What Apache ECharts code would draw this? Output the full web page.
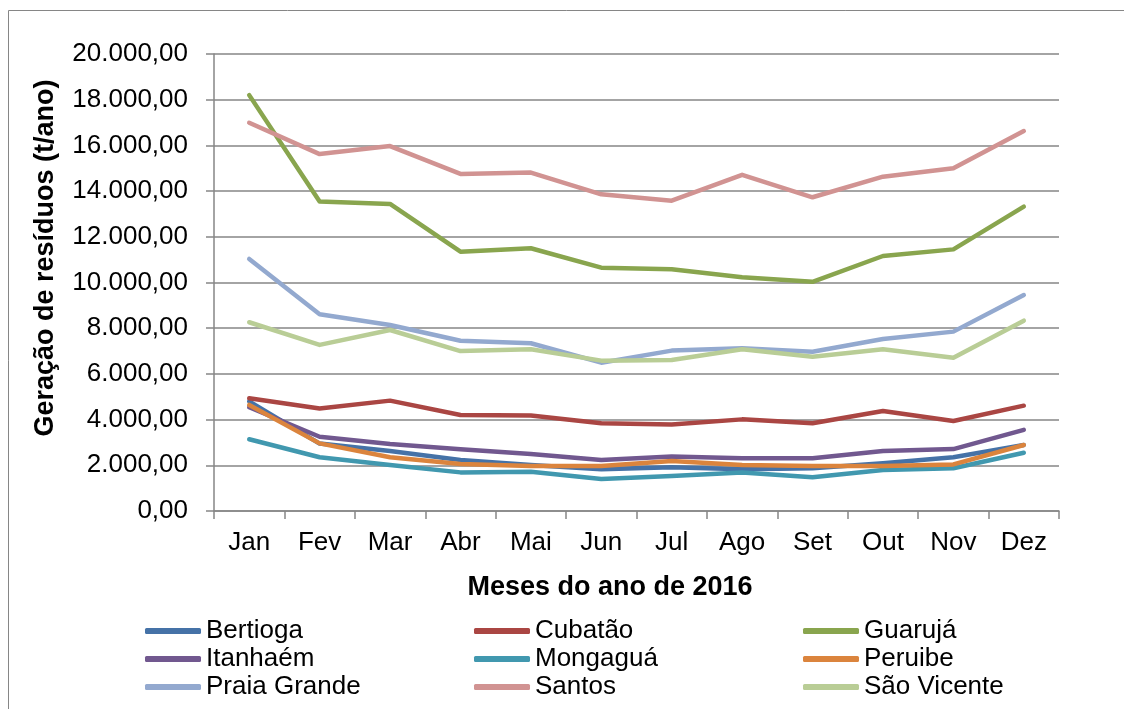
<!DOCTYPE html>
<html>
<head>
<meta charset="utf-8">
<script src="https://cdn.jsdelivr.net/npm/echarts@6/dist/echarts.min.js"></script>
<style>
  html, body { margin: 0; padding: 0; background: #ffffff; }
  #chart { width: 1124px; height: 709px; }
</style>
</head>
<body>
<div id="chart"></div>
<script>
// Monthly waste generation (t/ano) per municipality, 2016
const months = ['Jan', 'Fev', 'Mar', 'Abr', 'Mai', 'Jun', 'Jul', 'Ago', 'Set', 'Out', 'Nov', 'Dez'];

const bertioga    = [4800, 2950, 2630, 2230, 2010, 1830, 1910, 1830, 1870, 2090, 2350, 2890];
const cubatao     = [4930, 4490, 4830, 4200, 4180, 3840, 3790, 4010, 3840, 4380, 3940, 4610];
const guaruja     = [18200, 13540, 13440, 11350, 11500, 10650, 10580, 10230, 10030, 11160, 11450, 13320];
const itanhaem    = [4540, 3250, 2930, 2700, 2490, 2230, 2380, 2310, 2310, 2630, 2710, 3550];
const mongagua    = [3140, 2350, 2010, 1690, 1720, 1400, 1530, 1680, 1480, 1790, 1870, 2550];
const peruibe     = [4640, 2960, 2350, 2060, 1970, 1970, 2190, 2010, 1970, 1970, 2040, 2890];
const praiaGrande = [11030, 8610, 8140, 7450, 7340, 6490, 7020, 7120, 6970, 7530, 7850, 9450];
const santos      = [16990, 15620, 15970, 14750, 14810, 13860, 13580, 14710, 13730, 14630, 15000, 16630];
const saoVicente  = [8260, 7270, 7920, 7000, 7080, 6580, 6610, 7080, 6750, 7080, 6710, 8330];

const seriesDefs = [
  { name: 'Bertioga',     data: bertioga,    color: '#4572A7' },
  { name: 'Cubatão',      data: cubatao,     color: '#AA4643' },
  { name: 'Guarujá',      data: guaruja,     color: '#89A54E' },
  { name: 'Itanhaém',     data: itanhaem,    color: '#71588F' },
  { name: 'Mongaguá',     data: mongagua,    color: '#4198AF' },
  { name: 'Peruibe',      data: peruibe,     color: '#DB843D' },
  { name: 'Praia Grande', data: praiaGrande, color: '#93A9CF' },
  { name: 'Santos',       data: santos,      color: '#D19392' },
  { name: 'São Vicente',  data: saoVicente,  color: '#B9CD96' }
];

const font = 'Liberation Sans, Arial, sans-serif';
const gridColor = '#868686';

// pt-BR number style: thousands with '.', two decimals with ','
function fmt(v) {
  const s = Math.round(v).toString().replace(/\B(?=(\d{3})+(?!\d))/g, '.');
  return s + ',00';
}

// three legend columns, filled top to bottom
const legendCols = [
  { left: 145, names: ['Bertioga', 'Itanhaém', 'Praia Grande'] },
  { left: 474, names: ['Cubatão', 'Mongaguá', 'Santos'] },
  { left: 803, names: ['Guarujá', 'Peruibe', 'São Vicente'] }
];

const chart = echarts.init(document.getElementById('chart'), null, { renderer: 'canvas' });

chart.setOption({
  backgroundColor: '#ffffff',
  animation: false,
  textStyle: { fontFamily: font },
  grid: { left: 214, top: 54, right: 65, bottom: 198, containLabel: false },
  xAxis: {
    type: 'category',
    data: months,
    boundaryGap: true,
    axisLine: { lineStyle: { color: gridColor, width: 1.5 } },
    axisTick: { show: true, length: 8, inside: false, lineStyle: { color: gridColor, width: 1.5 } },
    axisLabel: { color: '#000', fontSize: 26, fontFamily: font, margin: 19 },
    splitLine: { show: false }
  },
  yAxis: {
    type: 'value',
    min: 0,
    max: 20000,
    interval: 2000,
    axisLine: { show: true, lineStyle: { color: gridColor, width: 1.5 } },
    axisTick: { show: true, length: 8, lineStyle: { color: gridColor, width: 1.5 } },
    axisLabel: { color: '#000', fontSize: 26, fontFamily: font, margin: 26, formatter: fmt },
    splitLine: { show: true, lineStyle: { color: gridColor, width: 1.5 } }
  },
  legend: legendCols.map(c => ({
    orient: 'vertical',
    left: c.left,
    top: 618,
    height: 100,
    padding: 0,
    data: c.names,
    icon: 'roundRect',
    itemWidth: 56,
    itemHeight: 6,
    itemGap: 2,
    textStyle: { color: '#000', fontSize: 26, lineHeight: 26, fontFamily: font }
  })),
  series: seriesDefs.map(s => ({
    name: s.name,
    type: 'line',
    data: s.data,
    symbol: 'none',
    smooth: false,
    color: s.color,
    lineStyle: { color: s.color, width: 4.5, cap: 'round', join: 'round' },
    itemStyle: { color: s.color }
  })),
  graphic: [
    {
      type: 'rect',
      shape: { x: 8.5, y: 10.5, width: 1130, height: 720 },
      style: { fill: 'none', stroke: '#868686', lineWidth: 1 },
      silent: true
    },
    {
      type: 'text',
      x: 46,
      y: 258,
      rotation: Math.PI / 2,
      style: {
        text: 'Geração de resíduos (t/ano)',
        font: 'bold 27px ' + font,
        fill: '#000',
        textAlign: 'center',
        textVerticalAlign: 'middle'
      }
    },
    {
      type: 'text',
      x: 610,
      y: 588,
      style: {
        text: 'Meses do ano de 2016',
        font: 'bold 27px ' + font,
        fill: '#000',
        textAlign: 'center',
        textVerticalAlign: 'middle'
      }
    }
  ]
});
</script>
</body>
</html>
